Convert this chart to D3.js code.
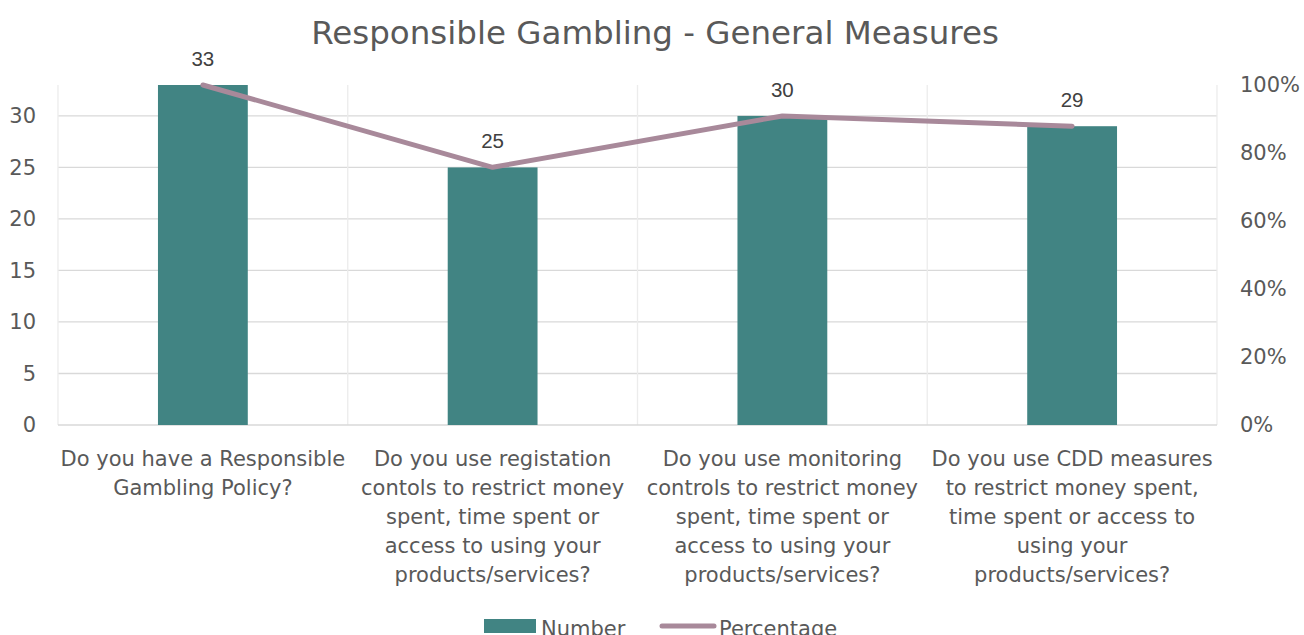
<!DOCTYPE html>
<html>
<head>
<meta charset="utf-8">
<script src="https://cdn.jsdelivr.net/npm/d3@7"></script>
<style>
  body { margin: 0; background: #fff; }
  svg { font-family: "DejaVu Sans", Verdana, sans-serif; }
</style>
</head>
<body>
<svg width="1304" height="635"></svg>
<script>
// category labels, already split into lines the way the chart wraps them
var categories = [
    ['Do you have a Responsible', 'Gambling Policy?'],
    ['Do you use registation', 'contols to restrict money', 'spent, time spent or', 'access to using your', 'products/services?'],
    ['Do you use monitoring', 'controls to restrict money', 'spent, time spent or', 'access to using your', 'products/services?'],
    ['Do you use CDD measures', 'to restrict money spent,', 'time spent or access to', 'using your', 'products/services?']
];
var numbers = [33, 25, 30, 29];
var percentages = [1.0, 0.758, 0.909, 0.879];
var leftTicks = [0, 5, 10, 15, 20, 25, 30];
var rightTicks = [0, 0.2, 0.4, 0.6, 0.8, 1.0];

var svg = d3.select('svg');
var svgWidth = +svg.attr('width');

var padding = {t: 85, r: 87, b: 210, l: 58};
var chartWidth = svgWidth - padding.l - padding.r;
var chartHeight = 635 - padding.t - padding.b;

var x = d3.scaleBand()
    .domain(d3.range(categories.length))
    .range([padding.l, padding.l + chartWidth])
    .paddingInner(0)
    .paddingOuter(0);

var yLeft = d3.scaleLinear().domain([0, 33]).range([padding.t + chartHeight, padding.t]);
var yRight = d3.scaleLinear().domain([0, 1]).range([padding.t + chartHeight, padding.t]);

var grid = svg.append('g');

// horizontal gridlines
grid.selectAll('.hgrid')
    .data(leftTicks.filter(function(d) { return d > 0; }))
    .enter().append('line')
    .attr('x1', padding.l).attr('x2', padding.l + chartWidth)
    .attr('y1', function(d) { return yLeft(d); })
    .attr('y2', function(d) { return yLeft(d); })
    .attr('stroke', '#d9d9d9').attr('stroke-width', 1.3);

// vertical gridlines at category boundaries
var bounds = d3.range(categories.length + 1).map(function(i) {
    return padding.l + i * x.bandwidth();
});
grid.selectAll('.vgrid')
    .data(bounds)
    .enter().append('line')
    .attr('x1', function(d) { return d; }).attr('x2', function(d) { return d; })
    .attr('y1', padding.t).attr('y2', padding.t + chartHeight)
    .attr('stroke', '#ececec').attr('stroke-width', 1.3);

// bottom axis line
svg.append('line')
    .attr('x1', padding.l).attr('x2', padding.l + chartWidth)
    .attr('y1', yLeft(0)).attr('y2', yLeft(0))
    .attr('stroke', '#d9d9d9').attr('stroke-width', 1.5);

// bars
var barWidth = x.bandwidth() * 0.31;
svg.selectAll('.bar')
    .data(numbers)
    .enter().append('rect')
    .attr('class', 'bar')
    .attr('x', function(d, i) { return x(i) + (x.bandwidth() - barWidth) / 2; })
    .attr('y', function(d) { return yLeft(d); })
    .attr('width', barWidth)
    .attr('height', function(d) { return yLeft(0) - yLeft(d); })
    .attr('fill', '#418483');

// percentage line
var line = d3.line()
    .x(function(d, i) { return x(i) + x.bandwidth() / 2; })
    .y(function(d) { return yRight(d); });

svg.append('path')
    .datum(percentages)
    .attr('d', line)
    .attr('fill', 'none')
    .attr('stroke', '#a8899a')
    .attr('stroke-width', 5)
    .attr('stroke-linecap', 'round')
    .attr('stroke-linejoin', 'round');

// data labels above bars
svg.selectAll('.value')
    .data(numbers)
    .enter().append('text')
    .attr('class', 'value')
    .attr('x', function(d, i) { return x(i) + x.bandwidth() / 2; })
    .attr('y', function(d) { return yLeft(d) - 19; })
    .attr('text-anchor', 'middle')
    .style('font-family', '"Liberation Sans", Arial, sans-serif')
    .style('font-size', '20.5px')
    .attr('fill', '#404040')
    .text(function(d) { return d; });

// left axis
var leftAxis = d3.axisLeft(yLeft).tickValues(leftTicks).tickSize(0).tickPadding(22);
var lg = svg.append('g')
    .attr('transform', 'translate(' + padding.l + ',0)')
    .call(leftAxis);
lg.select('.domain').remove();
lg.selectAll('text')
    .style('font-family', '"DejaVu Sans", sans-serif')
    .style('font-size', '21px')
    .attr('fill', '#595959');

// right axis
var rightAxis = d3.axisRight(yRight).tickValues(rightTicks).tickSize(0).tickPadding(23)
    .tickFormat(d3.format('.0%'));
var rg = svg.append('g')
    .attr('transform', 'translate(' + (padding.l + chartWidth) + ',0)')
    .call(rightAxis);
rg.select('.domain').remove();
rg.selectAll('text')
    .style('font-family', '"DejaVu Sans", sans-serif')
    .style('font-size', '21px')
    .attr('fill', '#595959');

// category labels
var labels = svg.selectAll('.cat')
    .data(categories)
    .enter().append('text')
    .attr('class', 'cat')
    .attr('text-anchor', 'middle')
    .style('font-size', '21px')
    .attr('fill', '#595959');

labels.selectAll('tspan')
    .data(function(d, i) { return d.map(function(s) { return {s: s, i: i}; }); })
    .enter().append('tspan')
    .attr('x', function(d) { return x(d.i) + x.bandwidth() / 2; })
    .attr('y', function(d, j) { return 466 + j * 29; })
    .text(function(d) { return d.s; });

// title
svg.append('text')
    .attr('x', 655)
    .attr('y', 44)
    .attr('text-anchor', 'middle')
    .style('font-size', '32.5px')
    .attr('fill', '#595959')
    .text('Responsible Gambling - General Measures');

// legend
var legend = svg.append('g');
legend.append('rect')
    .attr('x', 484).attr('y', 619).attr('width', 52).attr('height', 14)
    .attr('fill', '#418483');
legend.append('text')
    .attr('x', 541).attr('y', 636)
    .style('font-size', '21px')
    .attr('fill', '#595959')
    .text('Number');
legend.append('line')
    .attr('x1', 662).attr('x2', 714).attr('y1', 626).attr('y2', 626)
    .attr('stroke', '#a8899a').attr('stroke-width', 5).attr('stroke-linecap', 'round');
legend.append('text')
    .attr('x', 719).attr('y', 636)
    .style('font-size', '21px')
    .attr('fill', '#595959')
    .text('Percentage');
</script>
</body>
</html>
